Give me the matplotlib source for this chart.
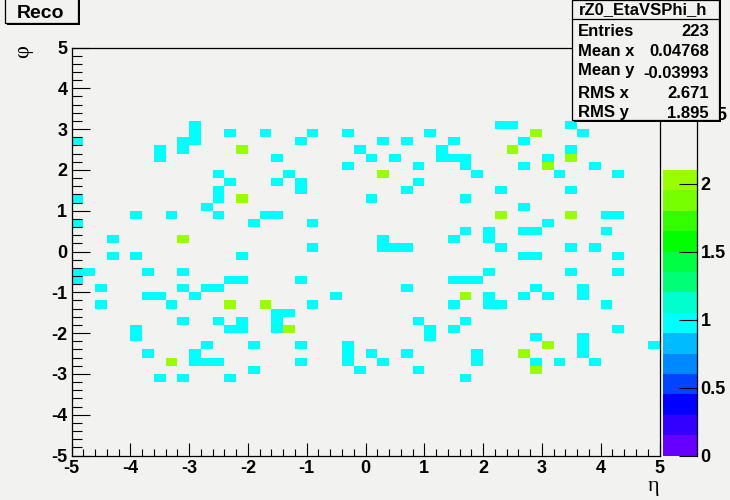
import numpy as np
import matplotlib
matplotlib.use("Agg")
import matplotlib.pyplot as plt
from matplotlib.colors import ListedColormap, BoundaryNorm
from matplotlib.lines import Line2D
from matplotlib.patches import Rectangle
from matplotlib.ticker import MultipleLocator

plt.rcParams["font.family"] = ["Liberation Sans", "DejaVu Sans"]
plt.rcParams["axes.unicode_minus"] = False

# bin numbers of the filled cells (phi bin 0 is at the bottom)
eta_one = [10, 36, 37, 42,
           10, 13, 16, 20, 23, 30, 43,
           0, 9, 10, 19, 26, 28, 32, 38,
           7, 9, 24, 31, 42,
           7, 17, 25, 27, 31, 32, 33, 40,
           23, 29, 33, 38, 44,
           12, 18, 34, 41, 46,
           13, 17, 19, 29,
           12, 19, 28, 36, 42,
           0, 12, 25, 33,
           11, 38,
           5, 8, 12, 16, 17, 45, 46,
           0, 15, 20, 40,
           33, 35, 38, 39, 45,
           3, 26, 32, 35,
           20, 26, 27, 28, 36, 42, 44,
           3, 5, 14, 38, 39, 46,
           0, 1, 6, 9, 35, 42, 46,
           0, 13, 14, 19, 32, 33, 34,
           2, 9, 11, 12, 28, 39, 43,
           6, 7, 10, 22, 35, 38, 40, 43,
           2, 8, 20, 32, 35, 36, 45,
           17, 18,
           9, 12, 14, 17, 29, 33,
           5, 13, 14, 17, 30, 32, 46,
           5, 30, 39, 43,
           11, 15, 19, 23, 43, 49,
           6, 10, 23, 25, 28, 34, 43,
           10, 11, 12, 19, 23, 26, 34, 39, 41, 44,
           15, 24, 29,
           7, 9, 13, 33]
phi_one = [40, 40, 40, 40,
           39, 39, 39, 39, 39, 39, 39,
           38, 38, 38, 38, 38, 38, 38, 38,
           37, 37, 37, 37, 37,
           36, 36, 36, 36, 36, 36, 36, 36,
           35, 35, 35, 35, 35,
           34, 34, 34, 34, 34,
           33, 33, 33, 33,
           32, 32, 32, 32, 32,
           31, 31, 31, 31,
           30, 30,
           29, 29, 29, 29, 29, 29, 29,
           28, 28, 28, 28,
           27, 27, 27, 27, 27,
           26, 26, 26, 26,
           25, 25, 25, 25, 25, 25, 25,
           24, 24, 24, 24, 24, 24,
           22, 22, 22, 22, 22, 22, 22,
           21, 21, 21, 21, 21, 21, 21,
           20, 20, 20, 20, 20, 20, 20,
           19, 19, 19, 19, 19, 19, 19, 19,
           18, 18, 18, 18, 18, 18, 18,
           17, 17,
           16, 16, 16, 16, 16, 16,
           15, 15, 15, 15, 15, 15, 15,
           14, 14, 14, 14,
           13, 13, 13, 13, 13, 13,
           12, 12, 12, 12, 12, 12, 12,
           11, 11, 11, 11, 11, 11, 11, 11, 11, 11,
           10, 10, 10,
           9, 9, 9, 9]
eta_two = [39, 14, 37, 42, 40, 26, 14, 36, 42, 9, 33, 13, 16, 18, 40, 38, 8, 39]
phi_two = [39, 37, 37, 36, 35, 34, 31, 29, 29, 26, 19, 18, 18, 15, 13, 12, 11, 10]

z_levels = np.arange(15) * 0.15
z_colors = ["#6600ff", "#3300ff", "#0000ff", "#0044ff", "#0088ff", "#00bbff", "#00ffff",
            "#00ffcc", "#00ff77", "#00ff44", "#00ff00", "#33ff00", "#77ff00", "#99ff00"]
x_edges = np.linspace(-5, 5, 51)
y_edges = np.linspace(-5, 5, 51)
stat_names = ["Entries", "Mean x", "Mean y", "RMS x", "RMS y"]
stat_values = ["223", "0.04768", "-0.03993", "2.671", "1.895"]

bg = "#f2f2f0"
W, H = 730.0, 500.0

z = np.zeros((50, 50))
z[phi_one, eta_one] = 1
z[phi_two, eta_two] = 2

fig = plt.figure(figsize=(7.3, 5.0), dpi=100, facecolor=bg)

ax = fig.add_axes([71.5 / W, (H - 455.5) / H, 588 / W, 408 / H], facecolor=bg)
cmap = ListedColormap(z_colors)
norm = BoundaryNorm(z_levels, cmap.N)
mesh = ax.pcolormesh(x_edges, y_edges, np.ma.masked_equal(z, 0), cmap=cmap, norm=norm)
ax.set_xlim(-5, 5)
ax.set_ylim(-5, 5)
ax.xaxis.set_major_locator(MultipleLocator(1))
ax.xaxis.set_minor_locator(MultipleLocator(0.2))
ax.yaxis.set_major_locator(MultipleLocator(1))
ax.yaxis.set_minor_locator(MultipleLocator(0.2))
ax.tick_params(axis="x", which="major", direction="in", length=9.5, width=0.8, labelsize=13, pad=3)
ax.tick_params(axis="x", which="minor", direction="in", length=5, width=0.8)
ax.tick_params(axis="y", which="major", direction="in", length=13, width=0.8, labelsize=13, pad=3)
ax.tick_params(axis="y", which="minor", direction="in", length=7, width=0.8)
for s in ax.spines.values():
    s.set_linewidth(0.9)
for t in ax.get_xticklabels() + ax.get_yticklabels():
    t.set_fontweight("bold")

cax = fig.add_axes([663 / W, (H - 455.5) / H, 33.5 / W, 285.5 / H])
cb = fig.colorbar(mesh, cax=cax, boundaries=z_levels, ticks=[0, 0.5, 1, 1.5, 2], spacing="proportional")
cb.outline.set_visible(False)
cb.ax.set_yticklabels(["0", "0.5", "1", "1.5", "2"], fontweight="bold")
cb.ax.tick_params(direction="in", length=13, width=0.8, labelsize=13, pad=3)
cb.ax.minorticks_off()

# pixel-coordinate overlay for the ROOT boxes and axis titles
top = fig.add_axes([0, 0, 1, 1], facecolor="none")
top.set_xlim(0, W)
top.set_ylim(H, 0)
top.axis("off")

top.add_line(Line2D([696.5, 696.5], [47.5, 455.5], color="black", lw=0.9))
top.text(721, 116, "5", fontsize=13, fontweight="bold", ha="center", va="center")

top.text(24, 52, "φ", fontsize=16, family="Liberation Serif", rotation=90, ha="center", va="center")
top.text(653, 486, "η", fontsize=16, family="Liberation Serif", ha="center", va="center")

top.add_patch(Rectangle((7, -3), 73, 28, fc="black", ec="none"))
top.add_patch(Rectangle((5, -5), 73, 28, fc=bg, ec="black", lw=0.9))
top.text(40, 14, "Reco", fontsize=14, fontweight="bold", ha="center", va="center")

top.add_patch(Rectangle((574, -3), 147, 125, fc="black", ec="none", zorder=3))
top.add_patch(Rectangle((572, 0), 147, 120, fc=bg, ec="black", lw=0.9, zorder=4))
top.add_line(Line2D([572, 719], [19, 19], color="black", lw=0.9, zorder=5))
top.text(643.5, 10, "rZ0_EtaVSPhi_h", fontsize=12, fontweight="bold", ha="center", va="center", zorder=5)
name_y = [32, 52, 71, 93, 112]
value_y = [32, 52, 73, 93, 113]
for name, value, ny, vy in zip(stat_names, stat_values, name_y, value_y):
    top.text(578, ny, name, fontsize=12, fontweight="bold", ha="left", va="center", zorder=5)
    top.text(709, vy, value, fontsize=12, fontweight="bold", ha="right", va="center", zorder=5)

fig.savefig("out.png", dpi=100, facecolor=bg)
